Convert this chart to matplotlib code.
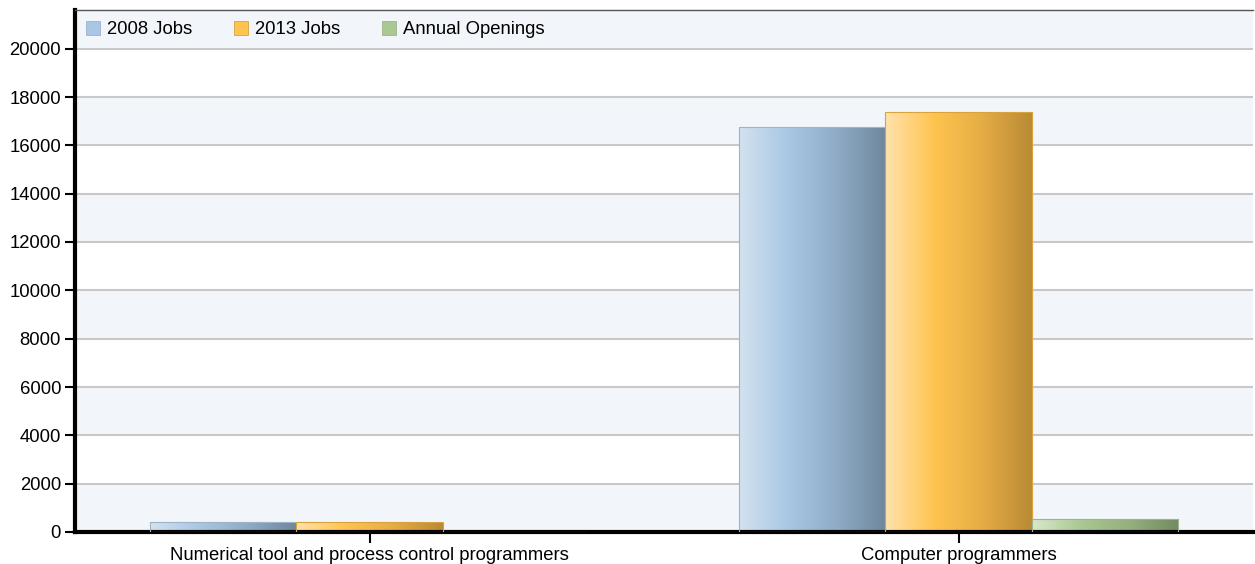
import matplotlib
matplotlib.use("Agg")
import matplotlib.pyplot as plt
import numpy as np
from matplotlib.colors import LinearSegmentedColormap
from matplotlib.patches import Patch

categories = ["Numerical tool and process control programmers", "Computer programmers"]
series_names = ["2008 Jobs", "2013 Jobs", "Annual Openings"]
jobs_2008 = [410, 16750]
jobs_2013 = [420, 17400]
annual_openings = [0, 520]
yticks = [0, 2000, 4000, 6000, 8000, 10000, 12000, 14000, 16000, 18000, 20000]

plt.rcParams['font.family'] = ['Liberation Sans', 'DejaVu Sans']

grads = [
    ["#d3e2f0", "#a9c7e4", "#8fabc6", "#6f879d"],
    ["#ffe2ad", "#ffc44f", "#e5ac45", "#b98a35"],
    ["#d9e8cc", "#aac891", "#94b07c", "#728a62"],
]
legend_colors = ["#a9c7e4", "#ffc44f", "#aac891"]
edge_colors = ["#9fb3c6", "#d9a23c", "#9db58a"]

FS = 13.3

fig = plt.figure(figsize=(12.55, 5.64), dpi=100)
ax = fig.add_axes([75/1255, 32/564, (1253-75)/1255, (532-10)/564])
ymax = 21600
ax.set_xlim(-0.5, 1.5)
ax.set_ylim(0, ymax)

# alternating bands
bands = yticks + [ymax]
for i in range(len(bands) - 1):
    if i % 2 == 0:
        ax.axhspan(bands[i], bands[i+1], color="#f2f5fa", zorder=0, lw=0)
for t in yticks[1:]:
    ax.axhline(t, color="#c8c8c8", lw=1.5, zorder=0.5)

x = np.arange(len(categories))
w = 0.248
data = [jobs_2008, jobs_2013, annual_openings]
for i, vals in enumerate(data):
    bars = ax.bar(x + (i - 1) * w, vals, width=w, color="none",
                  edgecolor=edge_colors[i], lw=0.8, zorder=3)
    cmap = LinearSegmentedColormap.from_list("g%d" % i, grads[i])
    grad = np.linspace(0, 1, 256).reshape(1, -1)
    for b in bars:
        h = b.get_height()
        if h <= 0:
            continue
        x0 = b.get_x()
        im = ax.imshow(grad, cmap=cmap, aspect="auto",
                       extent=[x0, x0 + b.get_width(), 0, h], zorder=2,
                       interpolation="bilinear")
        im.set_clip_path(b)
ax.set_xlim(-0.5, 1.5)
ax.set_ylim(0, ymax)

ax.set_xticks(x)
ax.set_xticklabels(categories, fontsize=FS)
ax.set_yticks(yticks)
ax.set_yticklabels([str(t) for t in yticks], fontsize=FS)
ax.tick_params(axis="x", length=8, width=1.5, color="black", pad=3)
ax.tick_params(axis="y", length=7, width=1.5, color="black", pad=3)

ax.spines["left"].set_linewidth(3)
ax.spines["bottom"].set_linewidth(3)
ax.spines["right"].set_visible(False)
ax.spines["top"].set_color("#555555")
ax.spines["top"].set_linewidth(1)

handles = [Patch(facecolor=legend_colors[i], edgecolor=edge_colors[i], lw=0.6) for i in range(3)]
ax.legend(handles, series_names, loc="upper left", ncol=3, frameon=False,
          fontsize=FS, handlelength=0.75, handleheight=0.75, handletextpad=0.4,
          columnspacing=2.25, borderaxespad=0.2, bbox_to_anchor=(0.0, 1.0))

fig.savefig("out.png", dpi=100)
